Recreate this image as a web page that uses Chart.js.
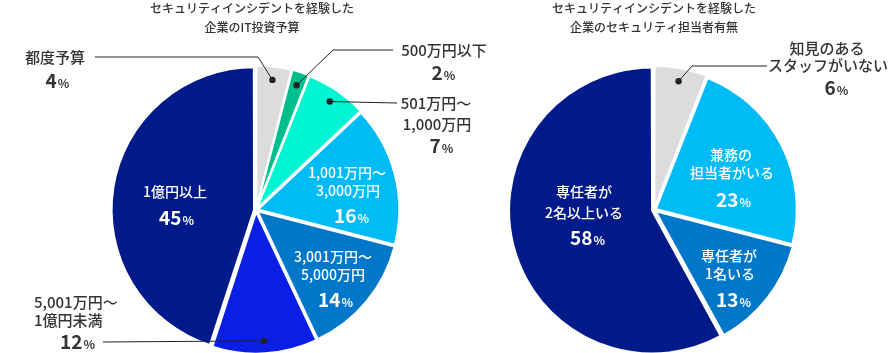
<!DOCTYPE html>
<html><head><meta charset="utf-8">
<script src="https://cdn.jsdelivr.net/npm/chart.js@4"></script>
<style>
html,body{margin:0;padding:0;background:#fff;width:894px;height:353px;overflow:hidden;}
.wrap{position:absolute;top:0;left:0;width:894px;height:353px;}
</style></head>
<body>
<div class="wrap"><canvas id="c1" width="894" height="353"></canvas></div>
<div class="wrap"><canvas id="c2" width="894" height="353"></canvas></div>
<script>
// ---- data ----
const budgetCategories = ['都度予算','500万円以下','501万円～1,000万円','1,001万円～3,000万円','3,001万円～5,000万円','5,001万円～1億円未満','1億円以上'];
const budgetValues = [4, 2, 7, 16, 14, 12, 45];
const staffCategories = ['知見のあるスタッフがいない','兼務の担当者がいる','専任者が1名いる','専任者が2名以上いる'];
const staffValues = [6, 23, 13, 58];
const budgetTitle = ['セキュリティインシデントを経験した','企業のIT投資予算'];
const staffTitle = ['セキュリティインシデントを経験した','企業のセキュリティ担当者有無'];

const budgetColors = ['#dcdcdc','#00bf8c','#00f5d2','#00bcf6','#0077c8','#0a1fe6','#001a8a'];
const staffColors = ['#dcdcdc','#00bcf6','#0077c8','#001a8a'];

const FONT = '"Noto Sans CJK JP","Noto Sans",sans-serif';
const DARK = '#333333';

const budgetLabels = [
  {i:0, lines:[{t:'都度予算',x:55,y:57}], pct:{x:57,y:81}, color:DARK,
   leader:[[95,57],[258,57]]},
  {i:1, lines:[{t:'500万円以下',x:444,y:50}], pct:{x:443,y:73}, color:DARK,
   leader:[[393,50],[333,50]]},
  {i:2, lines:[{t:'501万円～',x:436,y:103},{t:'1,000万円',x:437,y:124}], pct:{x:441,y:146}, color:DARK,
   leader:[[397,103]]},
  {i:3, lines:[{t:'1,001万円～',x:347,y:173},{t:'3,000万円',x:348,y:191}], pct:{x:351,y:216}, color:'#fff'},
  {i:4, lines:[{t:'3,001万円～',x:333,y:257},{t:'5,000万円',x:333,y:275}], pct:{x:335,y:300}, color:'#fff'},
  {i:5, lines:[{t:'5,001万円～',x:34,y:302,align:'left'},{t:'1億円未満',x:34,y:320,align:'left'}], pct:{x:77,y:342}, color:DARK,
   leader:[[103,342]]},
  {i:6, lines:[{t:'1億円以上',x:175,y:192}], pct:{x:176,y:218}, color:'#fff'}
];
const staffLabels = [
  {i:0, lines:[{t:'知見のある',x:827,y:48},{t:'スタッフがいない',x:828,y:65}], pct:{x:836,y:88}, color:DARK,
   leader:[[692,66],[767,66]].reverse()},
  {i:1, lines:[{t:'兼務の',x:731,y:155},{t:'担当者がいる',x:732,y:173}], pct:{x:733,y:200}, color:'#fff'},
  {i:2, lines:[{t:'専任者が',x:729,y:256},{t:'1名いる',x:730,y:274}], pct:{x:733,y:300}, color:'#fff'},
  {i:3, lines:[{t:'専任者が',x:584,y:192},{t:'2名以上いる',x:584,y:213}], pct:{x:587,y:238}, color:'#fff'}
];

function drawPct(ctx, value, x, y, color){
  const num = String(value);
  ctx.font = 'bold 19px ' + FONT;
  const w1 = ctx.measureText(num).width;
  ctx.font = 'bold 12px ' + FONT;
  const w2 = ctx.measureText('%').width;
  const start = x - (w1 + w2)/2;
  ctx.fillStyle = color;
  ctx.textAlign = 'left';
  ctx.textBaseline = 'alphabetic';
  ctx.font = 'bold 19px ' + FONT;
  ctx.fillText(num, start, y + 7);
  ctx.font = 'bold 12px ' + FONT;
  ctx.fillText('%', start + w1 + 1, y + 7);
}

const labelPlugin = {
  id: 'labelPlugin',
  afterDraw(chart, args, opts) {
    const ctx = chart.ctx;
    const meta = chart.getDatasetMeta(0);
    const values = chart.data.datasets[0].data;
    ctx.save();
    ctx.fillStyle = DARK;
    ctx.font = '500 12px ' + FONT;
    ctx.textAlign = 'center';
    ctx.textBaseline = 'middle';
    opts.title.forEach((t, k) => ctx.fillText(t, opts.titleX, 8 + k * 19));
    opts.labels.forEach(L => {
      if (L.leader) {
        const arc = meta.data[L.i];
        const p = arc.getProps(['x','y','startAngle','endAngle','outerRadius'], true);
        const mid = (p.startAngle + p.endAngle) / 2;
        const r = p.outerRadius * 0.93;
        const dx = p.x + Math.cos(mid) * r, dy = p.y + Math.sin(mid) * r;
        ctx.strokeStyle = '#222';
        ctx.lineWidth = 1;
        ctx.beginPath();
        ctx.moveTo(dx, dy);
        for (let k = L.leader.length - 1; k >= 0; k--) ctx.lineTo(L.leader[k][0], L.leader[k][1]);
        ctx.stroke();
        ctx.fillStyle = '#222';
        ctx.beginPath();
        ctx.arc(dx, dy, 3.2, 0, Math.PI * 2);
        ctx.fill();
      }
      ctx.fillStyle = L.color;
      ctx.font = (L.color === DARK ? '500 15px ' : '500 14px ') + FONT;
      ctx.textBaseline = 'middle';
      L.lines.forEach(ln => {
        ctx.textAlign = ln.align || 'center';
        ctx.fillText(ln.t, ln.x, ln.y);
      });
      drawPct(ctx, values[L.i], L.pct.x, L.pct.y, L.color);
    });
    ctx.restore();
  }
};

function makePie(id, cats, vals, colors, pad, title, titleX, labels) {
  return new Chart(document.getElementById(id), {
    type: 'pie',
    data: { labels: cats, datasets: [{ data: vals, backgroundColor: colors,
      borderColor: '#ffffff', borderWidth: 2, offset: 8, hoverOffset: 0 }] },
    options: {
      responsive: false, animation: false, radius: 141,
      layout: { padding: pad },
      plugins: { legend: { display: false }, tooltip: { enabled: false },
        labelPlugin: { title: title, titleX: titleX, labels: labels } },
      events: []
    },
    plugins: [labelPlugin]
  });
}

makePie('c1', budgetCategories, budgetValues, budgetColors,
  {left:106, right:488, top:67, bottom:0}, budgetTitle, 252, budgetLabels);
makePie('c2', staffCategories, staffValues, staffColors,
  {left:504, right:90, top:67, bottom:0}, staffTitle, 654, staffLabels);
</script>
</body></html>
